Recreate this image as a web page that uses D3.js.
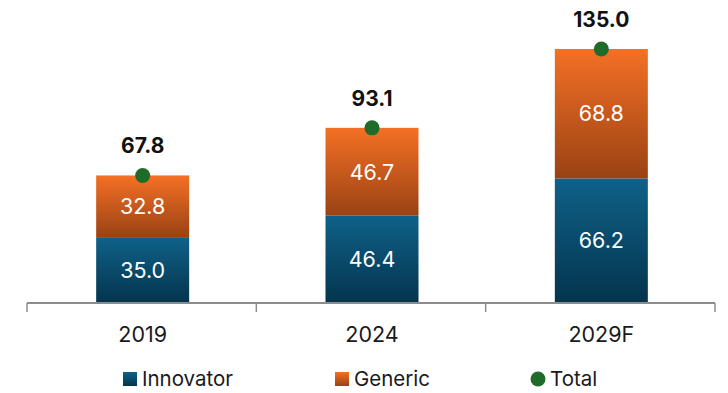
<!DOCTYPE html>
<html>
<head>
<meta charset="utf-8">
<script src="https://cdn.jsdelivr.net/npm/d3@7"></script>
<style>
  html, body { margin: 0; padding: 0; background: #fff; }
  svg { display: block; font-family: Inter, "Open Sans", sans-serif; }
</style>
</head>
<body>
<svg id="chart" width="728" height="393"></svg>
<script>
// Market size by segment
const categories = ["2019", "2024", "2029F"];
const innovator = [35.0, 46.4, 66.2];
const generic = [32.8, 46.7, 68.8];
const totals = [67.8, 93.1, 135.0];
const legendLabels = ["Innovator", "Generic", "Total"];

const svg = d3.select("#chart");

const x = d3.scaleBand().domain(categories).range([27, 715]).paddingInner(0).paddingOuter(0);
const y = d3.scaleLinear().domain([0, 135]).range([303, 49]);
const barW = 93;

const defs = svg.append("defs");
function grad(id, top, bottom) {
  const g = defs.append("linearGradient").attr("id", id)
    .attr("x1", 0).attr("y1", 0).attr("x2", 0).attr("y2", 1);
  g.append("stop").attr("offset", "0%").attr("stop-color", top);
  g.append("stop").attr("offset", "100%").attr("stop-color", bottom);
}
grad("gInn", "#0f6189", "#04344d");
grad("gGen", "#f47025", "#9a4214");

const cx = d => x(d) + x.bandwidth() / 2 + 1;

// Innovator segments
svg.append("g").selectAll("rect").data(categories).join("rect")
  .attr("x", d => cx(d) - barW / 2)
  .attr("width", barW)
  .attr("y", (d, i) => y(innovator[i]))
  .attr("height", (d, i) => y(0) - y(innovator[i]))
  .attr("fill", "url(#gInn)");

// Generic segments stacked on top
svg.append("g").selectAll("rect").data(categories).join("rect")
  .attr("x", d => cx(d) - barW / 2)
  .attr("width", barW)
  .attr("y", (d, i) => y(innovator[i] + generic[i]))
  .attr("height", (d, i) => y(innovator[i]) - y(innovator[i] + generic[i]))
  .attr("fill", "url(#gGen)");

// Segment value labels
svg.append("g").selectAll("text").data(categories).join("text")
  .attr("x", d => cx(d))
  .attr("y", (d, i) => (y(0) + y(innovator[i])) / 2)
  .attr("dy", "0.36em")
  .attr("text-anchor", "middle")
  .attr("fill", "#fff").attr("font-size", 21.5)
  .text((d, i) => innovator[i].toFixed(1));

svg.append("g").selectAll("text").data(categories).join("text")
  .attr("x", d => cx(d))
  .attr("y", (d, i) => (y(innovator[i]) + y(innovator[i] + generic[i])) / 2)
  .attr("dy", "0.36em")
  .attr("text-anchor", "middle")
  .attr("fill", "#fff").attr("font-size", 21.5)
  .text((d, i) => generic[i].toFixed(1));

// Axis
const axis = d3.axisBottom(x).tickSize(0).tickPadding(24);
const ag = svg.append("g").attr("transform", `translate(0,${y(0)})`).call(axis);
ag.select(".domain").attr("stroke", "#8c8c8c").attr("stroke-width", 2).attr("d", "M27,0H715");
ag.selectAll(".tick").attr("transform", d => `translate(${cx(d)},0)`);
ag.selectAll(".tick text").attr("font-size", 21.5).attr("fill", "#1a1a1a").attr("font-family", "Inter, sans-serif")
  .attr("dy", "0.71em");
// Category separators
const seps = [x.range()[0]].concat(categories.map(c => x(c) + x.bandwidth()));
svg.append("g").selectAll("line").data(seps).join("line")
  .attr("x1", d => d).attr("x2", d => d)
  .attr("y1", y(0)).attr("y2", y(0) + 9)
  .attr("stroke", "#8c8c8c").attr("stroke-width", 1.5);

// Total markers and labels
svg.append("g").selectAll("circle").data(categories).join("circle")
  .attr("cx", d => cx(d))
  .attr("cy", (d, i) => y(totals[i]))
  .attr("r", 7.5)
  .attr("fill", "#1e6b2a");

svg.append("g").selectAll("text").data(categories).join("text")
  .attr("x", d => cx(d))
  .attr("y", (d, i) => y(totals[i]) - 22)
  .attr("text-anchor", "middle")
  .attr("font-size", 21).attr("font-weight", "bold").attr("fill", "#111")
  .text((d, i) => totals[i].toFixed(1));

// Legend
const lg = svg.append("g").attr("font-size", 20.5).attr("fill", "#1a1a1a");
const ly = 379;
lg.append("rect").attr("x", 123).attr("y", ly - 7).attr("width", 14).attr("height", 14).attr("fill", "url(#gInn)");
lg.append("text").attr("x", 142).attr("y", ly).attr("dy", "0.36em").text(legendLabels[0]);
lg.append("rect").attr("x", 335).attr("y", ly - 7).attr("width", 14).attr("height", 14).attr("fill", "url(#gGen)");
lg.append("text").attr("x", 354).attr("y", ly).attr("dy", "0.36em").text(legendLabels[1]);
lg.append("circle").attr("cx", 538).attr("cy", ly).attr("r", 7.5).attr("fill", "#1e6b2a");
lg.append("text").attr("x", 550).attr("y", ly).attr("dy", "0.36em").text(legendLabels[2]);
</script>
</body>
</html>
